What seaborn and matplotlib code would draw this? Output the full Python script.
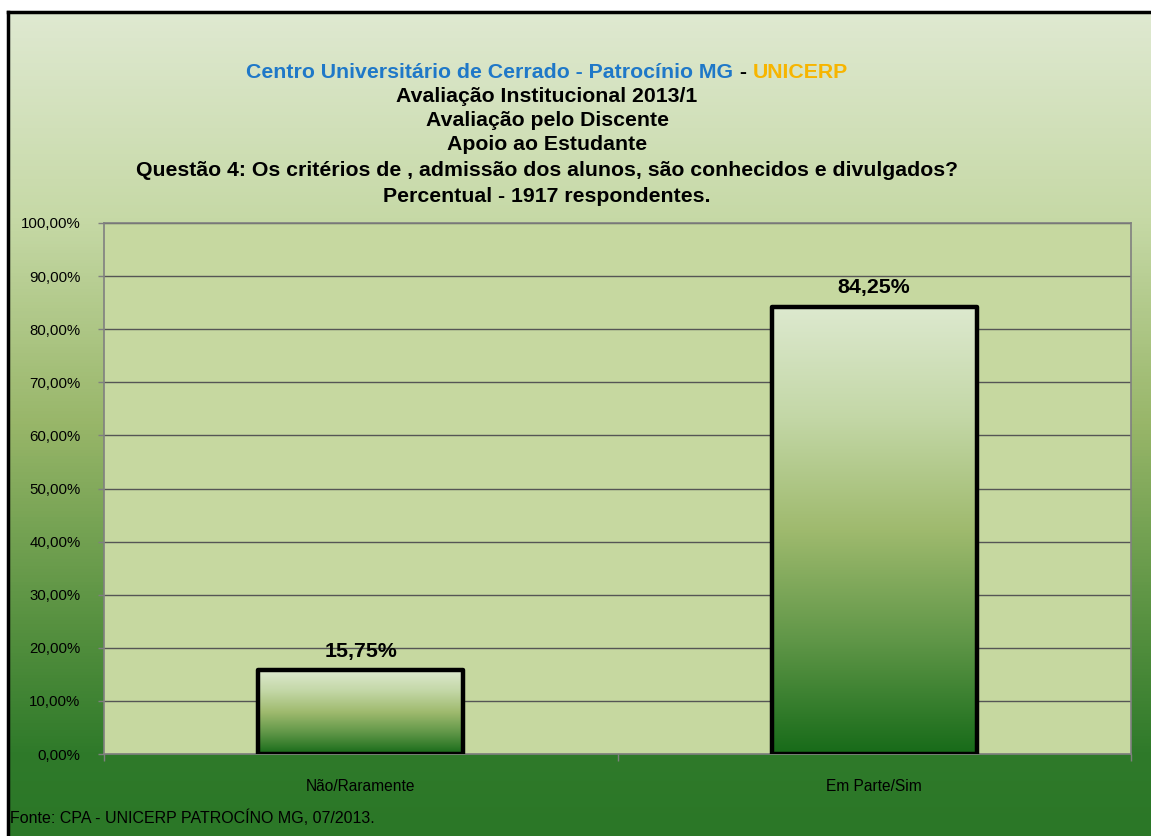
import numpy as np
import pandas as pd
import seaborn as sns
import matplotlib.pyplot as plt
from matplotlib.colors import LinearSegmentedColormap
from matplotlib.offsetbox import TextArea, HPacker, AnchoredOffsetbox

# dados
categorias = ['Não/Raramente', 'Em Parte/Sim']
percentuais = [15.75, 84.25]
rotulos = ['15,75%', '84,25%']
ticks_y = [0, 10, 20, 30, 40, 50, 60, 70, 80, 90, 100]

titulo_linha1 = [('Centro Universitário de Cerrado - Patrocínio MG', '#1f78c8'),
                 (' - ', 'black'),
                 ('UNICERP', '#f7b500')]
titulo_linhas = ['Avaliação Institucional 2013/1',
                 'Avaliação pelo Discente',
                 'Apoio ao Estudante',
                 'Questão 4: Os critérios de , admissão dos alunos, são conhecidos e divulgados?',
                 'Percentual - 1917 respondentes.']
fonte = 'Fonte: CPA - UNICERP PATROCÍNO MG, 07/2013.'

df = pd.DataFrame({'categoria': categorias, 'percentual': percentuais})

sns.set_style('white')
plt.rcParams['font.family'] = ['Liberation Sans', 'DejaVu Sans']
plt.rcParams['text.color'] = 'black'
plt.rcParams['xtick.color'] = 'black'
plt.rcParams['ytick.color'] = 'black'

W, H = 1151, 836
fig = plt.figure(figsize=(W / 100, H / 100), dpi=100)

# fundo em degradê com moldura preta
fundo = LinearSegmentedColormap.from_list('fundo', [
    (0.0, '#dfe9d1'), (0.25, '#c6d9a6'), (0.5, '#98b669'),
    (0.75, '#55903f'), (0.9, '#2f7a2a'), (1.0, '#2b7727')])
ax_bg = fig.add_axes([8 / W, 0, 1 - 8 / W, 1 - 12 / H], zorder=-1)
ax_bg.imshow(np.linspace(0, 1, 256).reshape(-1, 1), cmap=fundo, aspect='auto',
             extent=[0, 1, 0, 1])
ax_bg.set_xticks([])
ax_bg.set_yticks([])
for lado in ['right', 'bottom']:
    ax_bg.spines[lado].set_visible(False)
for lado in ['left', 'top']:
    ax_bg.spines[lado].set_color('black')
    ax_bg.spines[lado].set_linewidth(2.5)

# área do gráfico
ax = fig.add_axes([104 / W, 1 - 754 / H, (1131 - 104) / W, (754 - 223) / H])
ax.set_facecolor('#c6d8a0')
sns.barplot(data=df, x='categoria', y='percentual', width=0.4, ax=ax,
            edgecolor='black', linewidth=3.2, facecolor='none')

barras = LinearSegmentedColormap.from_list('barras', [
    (0.0, '#176b19'), (0.25, '#5f9647'), (0.5, '#9fba6e'),
    (0.75, '#c3d7a6'), (1.0, '#dde9cf')])
for p in ax.patches:
    p.set_joinstyle('round')
    p.set_zorder(3)
    x0, w, h = p.get_x(), p.get_width(), p.get_height()
    im = ax.imshow(np.linspace(1, 0, 256).reshape(-1, 1), cmap=barras,
                   aspect='auto', extent=[x0, x0 + w, 0, h], zorder=2.5)
    im.set_clip_path(p)

ax.bar_label(ax.containers[0], labels=rotulos, padding=7, fontsize=15.4,
             fontweight='bold', color='black')

ax.set_xlim(-0.5, 1.5)
ax.set_ylim(0, 100)
ax.set_yticks(ticks_y)
ax.set_yticklabels([f'{v:.2f}%'.replace('.', ',') for v in ticks_y])
ax.set_xticks([0, 1])
ax.set_xticks([-0.5, 0.5, 1.5], minor=True)
ax.set_xlabel('')
ax.set_ylabel('')
ax.yaxis.grid(True, color='#555555', linewidth=1)
ax.set_axisbelow(True)
for lado in ax.spines.values():
    lado.set_visible(True)
    lado.set_color('#808080')
    lado.set_linewidth(1.2)
ax.tick_params(axis='y', left=True, length=4, width=1, color='#808080',
               pad=13, labelsize=10.8, labelcolor='black')
ax.tick_params(axis='x', which='major', length=0, pad=18, labelsize=11.2,
               labelcolor='black')
ax.tick_params(axis='x', which='minor', bottom=True, length=5, width=1,
               color='#808080')

# títulos
cx = 547 / W
partes = [TextArea(s, textprops=dict(color=c, fontsize=15.3, fontweight='bold'))
          for s, c in titulo_linha1]
caixa = HPacker(children=partes, align='baseline', pad=0, sep=0)
fig.add_artist(AnchoredOffsetbox(loc='center', child=caixa, bbox_to_anchor=(cx, 1 - 72 / H),
                                 bbox_transform=fig.transFigure, frameon=False,
                                 pad=0, borderpad=0))
for texto, y in zip(titulo_linhas, [96, 121, 145, 170, 196]):
    fig.text(cx, 1 - y / H, texto, ha='center', va='center', fontsize=15.3,
             fontweight='bold', color='black')

fig.text(10 / W, 1 - 818 / H, fonte, ha='left', va='center', fontsize=11.5,
         color='black')

fig.savefig('out.png', dpi=100)
